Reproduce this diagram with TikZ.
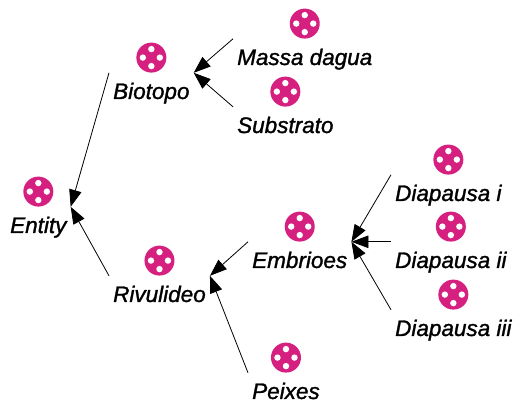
\documentclass[tikz,border=0pt]{standalone}
\usepackage{fontspec}
\setmainfont{Liberation Sans}
\newfontfamily\itemfont{Liberation Sans Italic}[FakeBold=1.3]
\usetikzlibrary{positioning,arrows.meta}
\definecolor{cellpink}{RGB}{214,32,128}
\begin{document}
\begin{tikzpicture}[x=1pt,y=-1pt,line join=round,>={Triangle[length=17pt,width=12.5pt]}]
			\tikzset{item/.style={anchor=base west,inner xsep=4pt,inner ysep=0pt,text height=26pt,text depth=4pt,font=\fontsize{22.5}{24}\selectfont\itemfont}}
			\tikzset{cell/.style={circle,fill=cellpink,minimum size=30pt,inner sep=0pt,node distance=0pt,
				path picture={\foreach \a in {0,90,180,270}\fill[white] (path picture bounding box.center) ++(\a:8.5pt) circle (3.2pt);}}}
			\tikzset{conn/.style={->,line width=0.8pt}}
			\useasboundingbox (0,0) rectangle (515,403);
			\node[item] (entity) at (6,233) {Entity};
			\node[item] (biotopo) at (109,99) {Biotopo};
			\node[item] (massa) at (233,65) {Massa dagua};
			\node[item] (substrato) at (233,133) {Substrato};
			\node[item] (rivulideo) at (109,302) {Rivulideo};
			\node[item] (embrioes) at (248,268) {Embrioes};
			\node[item] (peixes) at (248,399) {Peixes};
			\node[item] (diai) at (391,201) {Diapausa i};
			\node[item] (diaii) at (391,268) {Diapausa ii};
			\node[item] (diaiii) at (391,336) {Diapausa iii};
			\foreach \n in {entity,biotopo,massa,substrato,rivulideo,embrioes,peixes,diai,diaii,diaiii}
				\node[cell,above=of \n] (\n-cell) {};
			\draw[conn] (biotopo.north west)--(entity.north east);
			\draw[conn] (rivulideo.north west)--(entity.north east);
			\draw[conn] (massa.north west)--(biotopo.north east);
			\draw[conn] (substrato.north west)--(biotopo.north east);
			\draw[conn] (embrioes.north west)--(rivulideo.north east);
			\draw[conn] (peixes.north west)--(rivulideo.north east);
			\draw[conn] (diai.north west)--(embrioes.north east);
			\draw[conn] (diaii.north west)--(embrioes.north east);
			\draw[conn] (diaiii.north west)--(embrioes.north east);
		\end{tikzpicture}
\end{document}
